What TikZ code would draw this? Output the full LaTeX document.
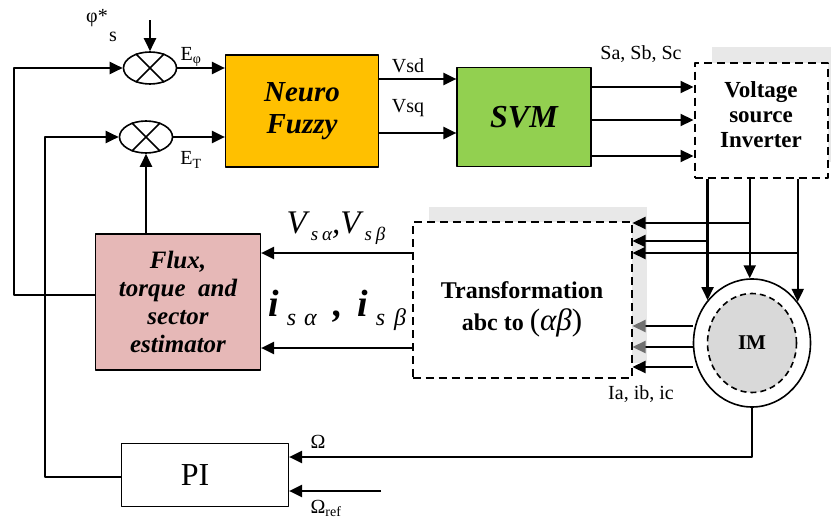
\documentclass[tikz,border=0pt]{standalone}
\usepackage{fontspec}
\setmainfont{Liberation Serif}
\usetikzlibrary{shapes.geometric,arrows.meta}

\definecolor{nfcol}{HTML}{FFC000}
\definecolor{svmcol}{HTML}{92D050}
\definecolor{estcol}{HTML}{E6B8B7}
\definecolor{shadecol}{HTML}{E8E8E8}
\definecolor{imcol}{HTML}{D9D9D9}
\definecolor{tipgray}{HTML}{707070}

\newcommand{\fsz}[1]{\fontsize{#1}{#1}\selectfont}
\newcommand{\subtx}[1]{\raisebox{-9pt}{\fsz{24}\mdseries\itshape #1}}

\tikzset{
  blk/.style={draw,line width=1.2pt,inner sep=0pt,align=center},
  dbox/.style={draw,line width=2pt,dash pattern=on 8pt off 5pt,fill=white,inner sep=0pt,align=center},
  arr/.style={line width=2.2pt,-{Triangle[length=13pt,width=12pt]}},
  garr/.style={line width=2.2pt,-{Triangle[length=13pt,width=12pt,color=tipgray]}},
  sum/.style={ellipse,draw,line width=1.6pt,minimum width=53pt,minimum height=32pt,inner sep=0pt},
  lbl/.style={font=\fsz{20}},
}

\begin{document}
\begin{tikzpicture}[x=1pt,y=-1pt,line join=round]
\useasboundingbox (0,0) rectangle (831,522);

% shades behind the dashed boxes
\fill[shadecol] (712,47) rectangle (831,162);
\fill[shadecol] (429,207) rectangle (647,363);

% blocks
\node[sum] (s1) at (150,68) {};
\node[sum] (s2) at (146,137) {};
\draw[line width=1.6pt] (s1.45)--(s1.225) (s1.135)--(s1.315);
\draw[line width=1.6pt] (s2.45)--(s2.225) (s2.135)--(s2.315);

\node[blk,fill=nfcol,minimum width=153pt,minimum height=112pt,
      font=\fsz{29}\bfseries\itshape] (nf) at (302,111) {Neuro\\[3pt]Fuzzy};
\node[blk,fill=svmcol,minimum width=134pt,minimum height=99pt,
      font=\fsz{32}\bfseries\itshape] (svm) at (524,117) {SVM};
\node[dbox,minimum width=133pt,minimum height=115pt,
      font=\fsz{23}\bfseries] (vsi) at (761,120) {Voltage\\[2pt]source\\[2pt]Inverter\\[-12pt]\mbox{}};

\node[blk,fill=estcol,minimum width=165pt,minimum height=136pt,
      font=\fsz{25}\bfseries\itshape] (est) at (178,302) {Flux,\\[3pt]torque\ \ and\\[3pt]sector\\[3pt]estimator};

% label partly hidden by the transformation block
\node[anchor=base west,inner sep=0pt,font=\fsz{38}\bfseries\itshape] (isab) at (268,316)
  {i\hspace{8pt}\subtx{s\hspace{8pt}α}\hspace{17pt},\hspace{14pt}i\hspace{8pt}\subtx{s\hspace{9pt}β}};

\node[dbox,minimum width=219pt,minimum height=156pt] (tr) at (522,300) {};
\node[align=center,font=\fsz{24}\bfseries] (trtxt) at (522,309)
  {Transformation\\[8pt]abc to {\fsz{31}\mdseries(\textit{αβ})}};

\node[ellipse,draw,line width=1.6pt,minimum width=117pt,minimum height=128pt,inner sep=0pt] (im) at (752,343) {};
\node[ellipse,draw,fill=imcol,line width=1.6pt,dash pattern=on 6pt off 4pt,
      minimum width=89pt,minimum height=99pt,font=\fsz{21}\bfseries] (imin) at (752,343) {IM};

\node[blk,minimum width=167pt,minimum height=63pt,font=\fsz{32}] (pi) at (205,475) {PI\hspace{20pt}};

% references and errors
\coordinate (phs) at (150,20);
\draw[arr] (phs) -- (s1.north);
\draw[arr] (s1.east) -- (nf.west |- s1.east);
\draw[arr] (s2.east) -- (nf.west |- s2.east);

% neuro fuzzy to svm to inverter
\draw[arr] (nf.east |- 0,79) -- (svm.west |- 0,79);
\draw[arr] (nf.east |- 0,133) -- (svm.west |- 0,133);
\foreach \yy in {87,120,156}
  \draw[arr] (svm.east |- 0,\yy) -- (vsi.west |- 0,\yy);

% inverter to motor
\draw[arr] (vsi.south -| im.136) -- (im.136);
\draw[arr] (vsi.south -| im.92) -- (im.92);
\draw[arr] (vsi.south -| im.42) -- (im.42);

% voltage taps and currents to the transformation
\draw[arr] (im.92 |- 0,223) -- (tr.east |- 0,223);
\draw[arr] (im.136 |- 0,241) -- (tr.east |- 0,241);
\draw[arr] (im.42 |- 0,253) -- (tr.east |- 0,253);
\draw[garr] (im.west |- 0,326) -- (tr.east |- 0,326);
\draw[garr] (im.west |- 0,347) -- (tr.east |- 0,347);
\draw[arr] (im.west |- 0,367) -- (tr.east |- 0,367);

% transformation to estimator
\draw[arr] (tr.west |- 0,253) -- (est.east |- 0,253);
\draw[arr] (tr.west |- 0,348) -- (est.east |- 0,348);

% estimator feedback
\draw[arr] (est.north -| s2.south) -- (s2.south);
\coordinate (lp1) at (14,295);
\draw[arr] (est.west |- lp1) -- (lp1) |- (s1.west);
\coordinate (lp2) at (45,477);
\draw[arr] (pi.west |- lp2) -- (lp2) |- (s2.west);

% speed loop
\draw[arr] (im.south) |- (pi.east |- 0,457);
\coordinate (wref) at (381,491);
\draw[arr] (wref) -- (pi.east |- wref);

% labels
\node[lbl] at (97,18) {φ*};
\node[lbl] at (113,37) {s};
\node[lbl] at (191,57) {E\textsubscript{φ}};
\node[lbl] at (191,160) {E\textsubscript{T}};
\node[lbl] at (408,66) {Vsd};
\node[lbl] at (408,108) {Vsq};
\node[lbl] at (641,54) {Sa, Sb, Sc};
\node[font=\fsz{33}\itshape] at (336,228) {V\hspace{4pt}\raisebox{-7pt}{\fsz{19}s\hspace{4pt}α},V\hspace{4pt}\raisebox{-7pt}{\fsz{19}s\hspace{4pt}β}};
\node[lbl] at (641,394) {Ia, ib, ic};
\node[lbl] at (318,442) {Ω};
\node[lbl] at (326,508) {Ω\textsubscript{ref}};
\end{tikzpicture}
\end{document}
